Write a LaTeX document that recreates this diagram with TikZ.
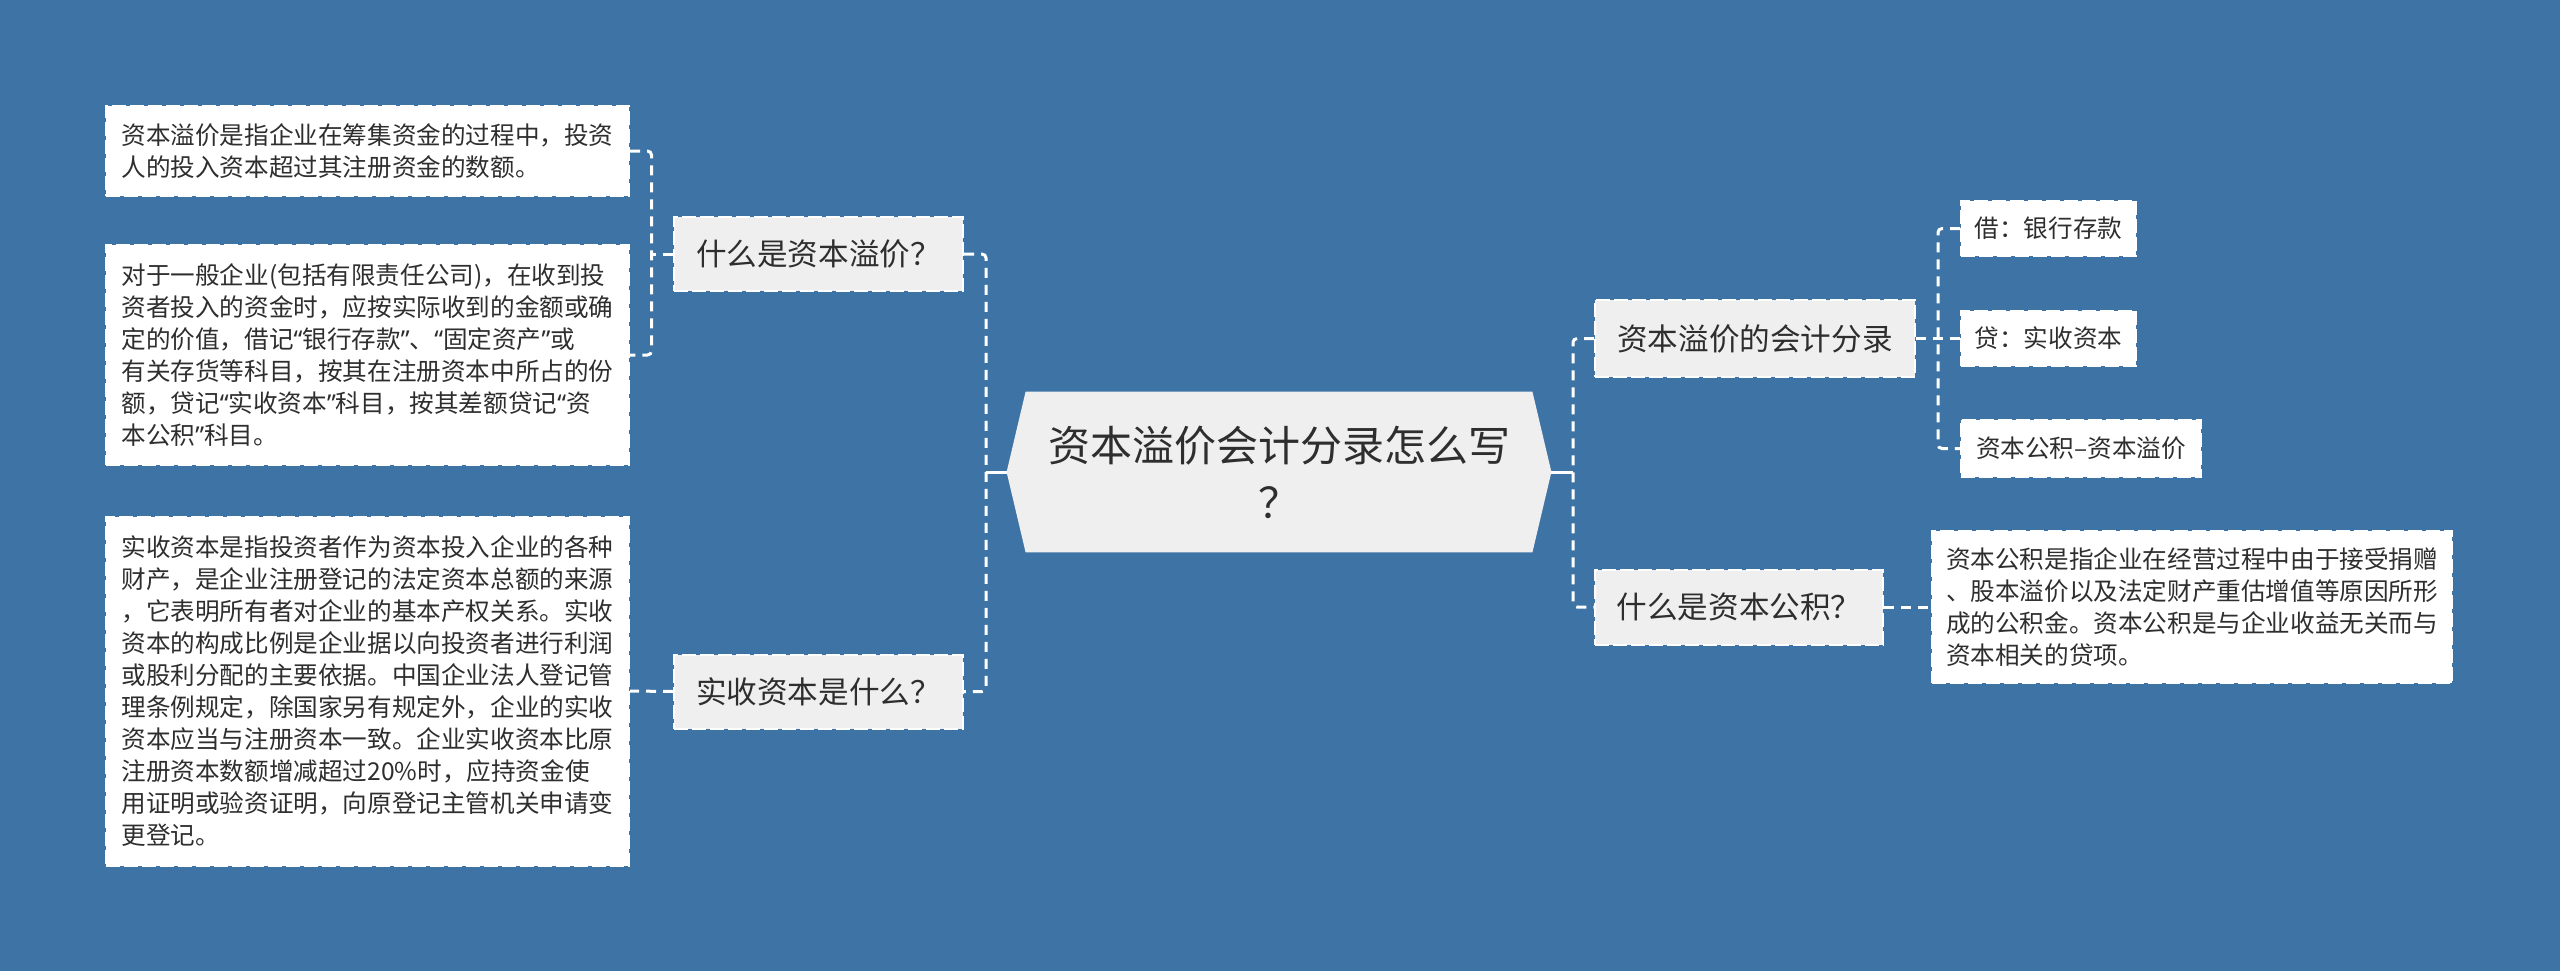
\documentclass[tikz,border=0pt]{standalone}
\usepackage{fontspec}
\setmainfont{Noto Sans CJK SC}
\newfontfamily\latinq{Noto Sans}
\usepackage{tikz}
\usepackage{xcolor}
\usetikzlibrary{positioning, calc, backgrounds}
\definecolor{MapBlue}{HTML}{3E73A6}
\definecolor{TopicGray}{HTML}{EFEFEF}
\definecolor{InkDark}{HTML}{2E2E2E}
\newcommand\qt[1]{{\latinq“}#1{\latinq”}}

\begin{document}
\begin{tikzpicture}[x=0.5pt, y=-0.5pt,
        box/.style={draw=white, line width=1pt, dash pattern=on 7pt off 2pt, text=InkDark, inner sep=0pt, align=left},
        leaf/.style={box, fill=white, font=\fontsize{12.3}{16}\selectfont},
        topic/.style={box, fill=TopicGray, font=\fontsize{15.3}{19}\selectfont},
        link/.style={white, line width=1.5pt, dash pattern=on 5pt off 3.5pt, rounded corners=2pt},
        stub/.style={white, line width=1.5pt}]
        \useasboundingbox (0,0) rectangle (2560,971);

        % Central topic
        \node[text=InkDark, align=center, minimum width=272pt, minimum height=80pt, inner sep=0pt,
              font=\fontsize{21}{28.5}\selectfont] (c) at (1279,472) {资本溢价会计分录怎么写\\？};

        % Left branches
        \node[topic, minimum width=144.5pt, minimum height=37pt] (q1) at (818.5,254) {什么是资本溢价？};
        \node[topic, minimum width=144.5pt, minimum height=37pt] (q2) at (818.5,691.5) {实收资本是什么？};

        \node[leaf, minimum width=261.5pt, minimum height=45pt] (l1) at (367.5,151) {资本溢价是指企业在筹集资金的过程中，投资\\人的投入资本超过其注册资金的数额。};
        \node[leaf, minimum width=261.5pt, minimum height=110pt] (l2) at (367.5,355) {对于一般企业(包括有限责任公司)，在收到投\\资者投入的资金时，应按实际收到的金额或确\\定的价值，借记\qt{银行存款}、\qt{固定资产}或\\有关存货等科目，按其在注册资本中所占的份\\额，贷记\qt{实收资本}科目，按其差额贷记{\latinq“}资\\本公积{\latinq”}科目。};
        \node[leaf, minimum width=261.5pt, minimum height=174.5pt] (l3) at (367.5,691) {实收资本是指投资者作为资本投入企业的各种\\财产，是企业注册登记的法定资本总额的来源\\，它表明所有者对企业的基本产权关系。实收\\资本的构成比例是企业据以向投资者进行利润\\或股利分配的主要依据。中国企业法人登记管\\理条例规定，除国家另有规定外，企业的实收\\资本应当与注册资本一致。企业实收资本比原\\注册资本数额增减超过20\%时，应持资金使\\用证明或验资证明，向原登记主管机关申请变\\更登记。};

        % Right branches
        \node[topic, minimum width=160pt, minimum height=38.5pt] (r1) at (1755,338.5) {资本溢价的会计分录};
        \node[topic, minimum width=144pt, minimum height=37.5pt] (r2) at (1739,607) {什么是资本公积？};

        \node[leaf, minimum width=87.5pt, minimum height=27.5pt] (e1) at (2048.5,228.5) {借：银行存款};
        \node[leaf, minimum width=87.5pt, minimum height=27.5pt] (e2) at (2048.5,338.5) {贷：实收资本};
        \node[leaf, minimum width=120pt, minimum height=28.5pt] (e3) at (2081,448.5) {资本公积–资本溢价};
        \node[leaf, minimum width=260pt, minimum height=76pt] (l4) at (2192,607) {资本公积是指企业在经营过程中由于接受捐赠\\、股本溢价以及法定财产重估增值等原因所形\\成的公积金。资本公积是与企业收益无关而与\\资本相关的贷项。};

        % Junctions
        \coordinate (lj) at (986,472);
        \coordinate (lj1) at (651.5,254);
        \coordinate (rj) at (1573,472);
        \coordinate (rj1) at (1938,338.5);

        % Connectors
        \draw[stub] (c.west) -- (lj);
        \draw[stub] (c.east) -- (rj);
        \draw[link] (q1.east) -| (lj) |- (q2.east);
        \draw[link] (r1.west) -| (rj) |- (r2.west);
        \draw[link] (q1.west) -- (lj1);
        \draw[link] (l1.east) -| (lj1) |- (l2.east);
        \draw[link] (q2.west) -- (l3.east);
        \draw[link] (r1.east) -- (e2.west);
        \draw[link] (e1.west) -| (rj1) |- (e3.west);
        \draw[link] (r2.east) -- (l4.west);

        \begin{pgfonlayer}{background}
            \fill[MapBlue] (0,0) rectangle (2560,971);
            \fill[TopicGray] ($(c.north west)+(19,0)$) -- ($(c.north east)+(-19,0)$) -- (c.east)
                -- ($(c.south east)+(-19,0)$) -- ($(c.south west)+(19,0)$) -- (c.west) -- cycle;
        \end{pgfonlayer}
    \end{tikzpicture}
\end{document}
